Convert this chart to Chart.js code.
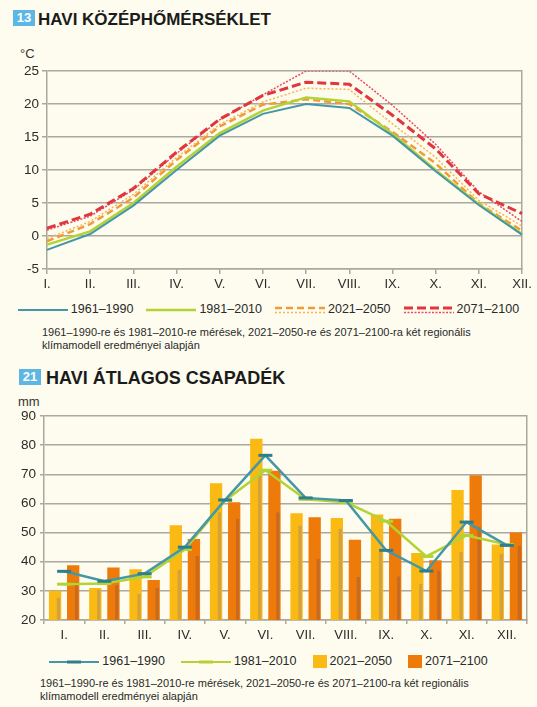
<!DOCTYPE html>
<html lang="hu">
<head>
<meta charset="utf-8">
<title>Havi középhőmérséklet és átlagos csapadék</title>
<script src="https://cdn.jsdelivr.net/npm/chart.js@4.4.1/dist/chart.umd.min.js"></script>
<style>
  html, body { margin: 0; padding: 0; }
  body {
    width: 537px; height: 707px; position: relative; overflow: hidden;
    background: #fdfcee; color: #222;
    font-family: 'Liberation Sans', Arial, sans-serif;
  }
  .badge {
    position: absolute; width: 22px; height: 16px; line-height: 16px;
    background: #5db7e4; color: #fff; text-align: center;
    font-size: 13px; font-weight: bold;
  }
  .title { position: absolute; font-weight: bold; color: #1b1b1b; white-space: nowrap; line-height: 1; }
  .unit { position: absolute; font-size: 13px; line-height: 13px; color: #333; }
  .box { position: absolute; left: 0; width: 537px; }
  .legend {
    position: absolute; left: 0; width: 537px; display: flex;
    justify-content: center; align-items: center;
    font-size: 12.5px; line-height: 13px; color: #2a2a2a; white-space: nowrap;
  }
  .legend .item { display: flex; align-items: center; }
  .legend svg { display: block; margin-right: 3px; }
  .note { position: absolute; font-size: 11px; color: #2a2a2a; white-space: nowrap; }
</style>
</head>
<body>

<div class="badge" style="left:13px; top:10px;">13</div>
<div class="title" style="left:38px; top:11px; font-size:17px;">HAVI KÖZÉPHŐMÉRSÉKLET</div>
<div class="unit" style="left:20px; top:47px;">°C</div>
<div class="box" style="top:40px; height:259px;"><canvas id="tempChart"></canvas></div>
<div class="legend" id="tempLegend" style="top:303px; height:13px; gap:13px;"></div>
<div class="note" style="left:42px; top:326px; line-height:12.5px;">1961–1990-re és 1981–2010-re mérések, 2021–2050-re és 2071–2100-ra két regionális<br>klímamodell eredményei alapján</div>

<div class="badge" style="left:19px; top:369px;">21</div>
<div class="title" style="left:46px; top:369px; font-size:18px;">HAVI ÁTLAGOS CSAPADÉK</div>
<div class="unit" style="left:18px; top:395px;">mm</div>
<div class="box" style="top:395px; height:251px;"><canvas id="rainChart"></canvas></div>
<div class="legend" id="rainLegend" style="top:655px; height:13px; gap:16px;"></div>
<div class="note" style="left:40px; top:677px; line-height:13px;">1961–1990-re és 1981–2010-re mérések, 2021–2050-re és 2071–2100-ra két regionális<br>klímamodell eredményei alapján</div>

<script>
const months = ['I.', 'II.', 'III.', 'IV.', 'V.', 'VI.', 'VII.', 'VIII.', 'IX.', 'X.', 'XI.', 'XII.'];
const periods = ['1961–1990', '1981–2010', '2021–2050', '2071–2100'];

// havi középhőmérséklet, °C (a = szaggatott, b = pontozott modell)
const tempTicks = [-5, 0, 5, 10, 15, 20, 25];
const temp6190 = [-2.1, 0.3, 4.6, 10.0, 15.2, 18.5, 20.0, 19.4, 15.2, 9.8, 4.7, 0.2];
const temp8110 = [-1.3, 0.7, 5.0, 10.5, 15.6, 19.0, 21.0, 20.4, 15.5, 10.0, 4.8, 0.3];
const temp2150a = [-0.8, 1.8, 5.8, 11.5, 16.6, 19.9, 20.7, 20.0, 15.8, 11.0, 4.9, 0.8];
const temp2150b = [-0.4, 2.2, 6.3, 11.9, 16.9, 20.3, 22.4, 22.2, 17.0, 11.9, 5.4, 1.5];
const temp7100a = [1.2, 3.3, 7.2, 12.7, 17.7, 21.3, 23.3, 23.0, 18.3, 13.2, 6.4, 3.4];
const temp7100b = [0.9, 3.0, 7.0, 12.5, 17.6, 21.4, 25.0, 25.0, 19.8, 13.9, 6.7, 2.2];

// havi átlagos csapadék, mm (a = széles oszlop, b = keskeny sáv a másik modellből)
const rainTicks = [20, 30, 40, 50, 60, 70, 80, 90];
const rain6190 = [36.7, 33.3, 35.9, 45.0, 61.2, 76.5, 61.9, 61.0, 43.9, 36.8, 53.6, 45.6];
const rain8110 = [32.3, 32.5, 34.8, 44.2, 61.0, 71.4, 61.4, 60.4, 53.9, 41.8, 49.0, 45.9];
const rain2150a = [30.0, 31.0, 37.4, 52.5, 66.9, 82.2, 56.6, 55.0, 56.2, 43.0, 64.6, 45.9];
const rain7100a = [38.8, 38.0, 33.7, 47.8, 60.4, 71.2, 55.3, 47.5, 54.7, 40.5, 69.7, 50.0];
const rain2150b = [27.7, 30.5, 28.9, 37.3, 57.0, 70.0, 52.4, 51.3, 43.3, 32.5, 43.3, 42.8];
const rain7100b = [33.0, 32.0, 31.0, 42.0, 54.7, 57.0, 41.0, 34.8, 35.0, 37.0, 52.0, 45.6];

// colours
const teal = '#4596a6';
const tealDark = '#2f7e8c';
const green = '#b4d234';
const orange = '#f29a38';
const orangeLight = '#f7b451';
const red = '#e0363e';
const redLight = '#ea4a5e';
const barYellow = '#fbb914';
const barOrange = '#ee7a0a';
const barYellowDark = '#d3a23e';
const barOrangeDark = '#c86b22';
const gridGray = '#aaa89f';
const tickColor = '#2b2b2b';

Chart.defaults.font.family = "'Liberation Sans', Arial, sans-serif";
const narrowFont = { family: "'Liberation Sans Narrow', 'Arial Narrow', 'Liberation Sans', Arial, sans-serif", size: 13 };
const numFont = { size: 13.5 };

function fixWidth(w) { return function(scale) { scale.width = w; }; }
function fixHeight(h) { return function(scale) { scale.height = h; }; }

// right frame line of the plot
function rightFrame() {
  return {
    position: 'right',
    ticks: { display: false },
    grid: { display: false },
    border: { color: gridGray, width: 1.5 },
    afterFit: fixWidth(0)
  };
}

new Chart(document.getElementById('tempChart'), {
  type: 'line',
  data: {
    labels: months,
    datasets: [
      { label: periods[0], data: temp6190, borderColor: teal, borderWidth: 2 },
      { label: periods[1], data: temp8110, borderColor: green, borderWidth: 2.5 },
      { label: periods[2], data: temp2150a, borderColor: orange, borderWidth: 2.5, borderDash: [7, 4] },
      { label: periods[2], data: temp2150b, borderColor: orangeLight, borderWidth: 1.5, borderDash: [2, 2] },
      { label: periods[3], data: temp7100a, borderColor: red, borderWidth: 3, borderDash: [9, 4] },
      { label: periods[3], data: temp7100b, borderColor: redLight, borderWidth: 1.5, borderDash: [2, 1.5] }
    ]
  },
  options: {
    responsive: true,
    maintainAspectRatio: false,
    animation: false,
    layout: { padding: { top: 31, right: 15, bottom: 0, left: 0 } },
    elements: { point: { radius: 0 }, line: { tension: 0, fill: false } },
    plugins: { legend: { display: false }, tooltip: { enabled: false } },
    scales: {
      x: {
        offset: false,
        grid: { drawOnChartArea: false, color: gridGray, lineWidth: 1.5, tickLength: 5 },
        border: { color: gridGray, width: 1.5 },
        ticks: { font: narrowFont, color: tickColor, padding: 3, maxRotation: 0, autoSkip: false },
        afterFit: fixHeight(30)
      },
      y: {
        min: tempTicks[0],
        max: tempTicks[tempTicks.length - 1],
        ticks: { stepSize: tempTicks[1] - tempTicks[0], font: numFont, color: tickColor, padding: 3 },
        grid: { color: gridGray, lineWidth: 1.5, tickLength: 5 },
        border: { color: gridGray, width: 1.5 },
        afterFit: fixWidth(47)
      },
      yR: rightFrame()
    }
  }
});

// the second model is drawn as a narrow strip on the right side of each bar:
// same stack slot as the main bar, transparent fill, right border only
const stripBorder = { top: 0, left: 0, bottom: 0, right: 3.5 };

new Chart(document.getElementById('rainChart'), {
  type: 'bar',
  data: {
    labels: months,
    datasets: [
      { type: 'line', label: periods[0], data: rain6190, borderColor: teal, borderWidth: 2.5,
        pointStyle: 'line', pointRadius: 7, pointBorderWidth: 3, pointBorderColor: tealDark, order: 0 },
      { type: 'line', label: periods[1], data: rain8110, borderColor: green, borderWidth: 2.5,
        pointStyle: 'line', pointRadius: 7, pointBorderWidth: 3, pointBorderColor: green, order: 0 },
      { label: periods[2], data: rain2150a, stack: 'a', backgroundColor: barYellow, order: 2,
        categoryPercentage: 0.9, barPercentage: 0.68 },
      { label: periods[3], data: rain7100a, stack: 'b', backgroundColor: barOrange, order: 2,
        categoryPercentage: 0.9, barPercentage: 0.68 },
      { label: periods[2], data: rain2150b, stack: 'a', backgroundColor: 'rgba(0,0,0,0)',
        borderColor: barYellowDark, borderWidth: stripBorder, borderSkipped: false, order: 1,
        categoryPercentage: 0.9, barPercentage: 0.58 },
      { label: periods[3], data: rain7100b, stack: 'b', backgroundColor: 'rgba(0,0,0,0)',
        borderColor: barOrangeDark, borderWidth: stripBorder, borderSkipped: false, order: 1,
        categoryPercentage: 0.9, barPercentage: 0.58 }
    ]
  },
  options: {
    responsive: true,
    maintainAspectRatio: false,
    animation: false,
    layout: { padding: { top: 21, right: 5, bottom: 0, left: 0 } },
    elements: { line: { tension: 0, fill: false } },
    plugins: { legend: { display: false }, tooltip: { enabled: false } },
    scales: {
      x: {
        offset: true,
        grid: { offset: true, drawOnChartArea: false, color: gridGray, lineWidth: 1.5, tickLength: 4 },
        border: { color: gridGray, width: 1.5 },
        ticks: { font: narrowFont, color: tickColor, padding: 4, maxRotation: 0, autoSkip: false },
        afterFit: fixHeight(26)
      },
      y: {
        stacked: false,
        min: rainTicks[0],
        max: rainTicks[rainTicks.length - 1],
        ticks: { stepSize: rainTicks[1] - rainTicks[0], font: numFont, color: tickColor, padding: 4 },
        grid: { color: gridGray, lineWidth: 1.5, tickLength: 4 },
        border: { color: gridGray, width: 1.5 },
        afterFit: fixWidth(44)
      },
      yR: rightFrame()
    }
  }
});

// legends
function lineSvg(lines, marker) {
  let s = '<svg width="50" height="12" viewBox="0 0 50 12">';
  lines.forEach(l => {
    s += '<line x1="0" x2="50" y1="' + l.y + '" y2="' + l.y + '" stroke="' + l.color +
         '" stroke-width="' + l.width + '"' + (l.dash ? ' stroke-dasharray="' + l.dash + '"' : '') + '/>';
  });
  if (marker) {
    s += '<line x1="18" x2="32" y1="6" y2="6" stroke="' + marker + '" stroke-width="3"/>';
  }
  return s + '</svg>';
}
function boxSvg(color) {
  return '<svg width="14" height="13"><rect x="0" y="0" width="14" height="13" fill="' + color + '"/></svg>';
}
function fillLegend(id, items) {
  const el = document.getElementById(id);
  items.forEach(it => {
    const d = document.createElement('div');
    d.className = 'item';
    d.innerHTML = it.sym;
    d.appendChild(document.createTextNode(it.text));
    el.appendChild(d);
  });
}

fillLegend('tempLegend', [
  { text: periods[0], sym: lineSvg([{ y: 6, color: teal, width: 2 }]) },
  { text: periods[1], sym: lineSvg([{ y: 6, color: green, width: 2.5 }]) },
  { text: periods[2], sym: lineSvg([{ y: 4, color: orange, width: 2.5, dash: '7 4' },
                                    { y: 8.5, color: orangeLight, width: 1.5, dash: '2 2' }]) },
  { text: periods[3], sym: lineSvg([{ y: 4, color: red, width: 3, dash: '9 4' },
                                    { y: 8.5, color: redLight, width: 1.5, dash: '2 1.5' }]) }
]);

fillLegend('rainLegend', [
  { text: periods[0], sym: lineSvg([{ y: 6, color: teal, width: 2 }], tealDark) },
  { text: periods[1], sym: lineSvg([{ y: 6, color: green, width: 2 }], green) },
  { text: periods[2], sym: boxSvg(barYellow) },
  { text: periods[3], sym: boxSvg(barOrange) }
]);
</script>
</body>
</html>
